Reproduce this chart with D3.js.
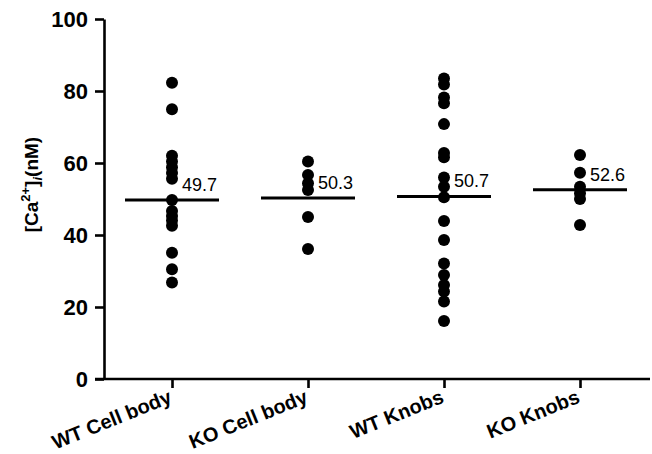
<!DOCTYPE html>
<html>
<head>
<meta charset="utf-8">
<script src="https://cdn.jsdelivr.net/npm/d3@7"></script>
<style>
  body { margin: 0; background: #fff; }
  text { font-family: Arial, "Liberation Sans", sans-serif; }
</style>
</head>
<body>
<div id="chart"></div>
<script>
var width = 652;
var height = 454;

// data
var categories = ["WT Cell body", "KO Cell body", "WT Knobs", "KO Knobs"];
var wtCellBody = [82.3, 74.9, 62, 60.4, 58.8, 57.2, 55.6, 49.7, 46.7, 45.3, 44, 42.6, 35.1, 30.5, 26.8];
var koCellBody = [60.4, 56.7, 54.4, 52.5, 45, 36.1];
var wtKnobs = [83.5, 81.8, 78.2, 76.6, 70.8, 62.8, 61.6, 56, 53.4, 50.5, 43.9, 38.6, 32.1, 28.9, 26.1, 24.3, 21.5, 16.1];
var koKnobs = [62.2, 57.3, 53.4, 51.6, 50, 42.8];
var means = [49.7, 50.3, 50.7, 52.6];
var yTicks = [0, 20, 40, 60, 80, 100];

var groups = [wtCellBody, koCellBody, wtKnobs, koKnobs];

var svg = d3.select("#chart")
    .append("svg")
    .attr("width", width)
    .attr("height", height);

var margin = ({top: 19, right: 4, bottom: 75, left: 104});

// set the ranges
var x = d3.scalePoint()
    .domain(categories)
    .range([margin.left, width - margin.right])
    .padding(0.5);
var y = d3.scaleLinear()
    .domain([0, 100])
    .range([height - margin.bottom, margin.top]);

var tickLen = 9;

// Y axis
var yAxis = svg.append("g")
    .attr("transform", "translate(" + margin.left + ",0)")
    .call(d3.axisLeft(y)
        .tickValues(yTicks)
        .tickSize(tickLen)
        .tickSizeOuter(0)
        .tickPadding(7));
yAxis.select(".domain").attr("stroke-width", 2.6);
yAxis.selectAll(".tick line").attr("stroke-width", 2.6);
yAxis.selectAll("text")
    .style("font-size", "22px")
    .style("font-weight", "bold")
    .attr("fill", "#000");

// X axis
var xAxis = svg.append("g")
    .attr("transform", "translate(0," + y(0) + ")")
    .call(d3.axisBottom(x).tickSize(tickLen).tickFormat(""));
xAxis.select(".domain").remove();
xAxis.selectAll(".tick line").attr("stroke-width", 2.6);
xAxis.append("line")
    .attr("x1", margin.left - tickLen)
    .attr("x2", width - 2)
    .attr("stroke", "#000")
    .attr("stroke-width", 2.6);

// rotated category labels
svg.selectAll(".xlabel")
    .data(categories)
    .enter().append("text")
    .attr("class", "xlabel")
    .attr("transform", function(d) {
        return "translate(" + (x(d) + 1) + "," + (y(0) + 23) + ") rotate(-22)";
    })
    .attr("text-anchor", "end")
    .style("font-size", "20px")
    .style("font-weight", "bold")
    .text(function(d) { return d; });

// y title
var title = svg.append("text")
    .attr("transform", "translate(38," + y(54) + ") rotate(-90)")
    .attr("text-anchor", "middle")
    .style("font-size", "19px")
    .style("font-weight", "bold");
title.append("tspan").text("[Ca");
title.append("tspan").attr("dy", -8).style("font-size", "13px").text("2+");
title.append("tspan").attr("dy", 8).text("]");
title.append("tspan").attr("dy", 4).style("font-size", "13px").style("font-style", "italic").text("i");
title.append("tspan").attr("dy", -4).text("(nM)");

// dots
groups.forEach(function(vals, i) {
    svg.selectAll(".dot" + i)
        .data(vals)
        .enter().append("circle")
        .attr("class", "dot" + i)
        .attr("cx", x(categories[i]))
        .attr("cy", function(d) { return y(d); })
        .attr("r", 6)
        .attr("fill", "#000");
});

// mean lines and labels
svg.selectAll(".mean")
    .data(means)
    .enter().append("line")
    .attr("class", "mean")
    .attr("x1", function(d, i) { return x(categories[i]) - 47; })
    .attr("x2", function(d, i) { return x(categories[i]) + 47; })
    .attr("y1", function(d) { return y(d); })
    .attr("y2", function(d) { return y(d); })
    .attr("stroke", "#000")
    .attr("stroke-width", 3);

svg.selectAll(".meanlabel")
    .data(means)
    .enter().append("text")
    .attr("class", "meanlabel")
    .attr("x", function(d, i) { return x(categories[i]) + 10; })
    .attr("y", function(d) { return y(d) - 9; })
    .style("font-size", "18px")
    .text(function(d) { return d.toFixed(1); });
</script>
</body>
</html>
